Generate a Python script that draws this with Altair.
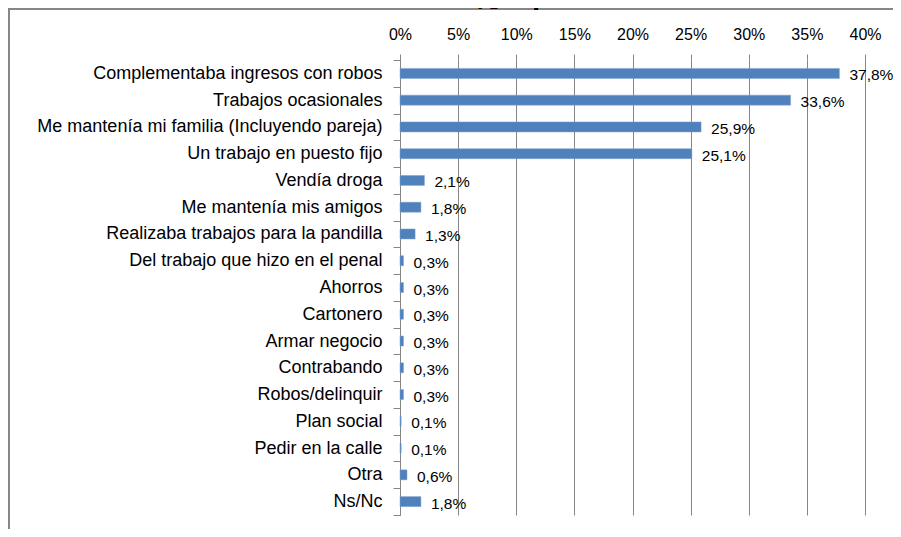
import altair as alt
import pandas as pd

categories = [
    "Complementaba ingresos con robos",
    "Trabajos ocasionales",
    "Me mantenía mi familia (Incluyendo pareja)",
    "Un trabajo en puesto fijo",
    "Vendía droga",
    "Me mantenía mis amigos",
    "Realizaba trabajos para la pandilla",
    "Del trabajo que hizo en el penal",
    "Ahorros",
    "Cartonero",
    "Armar negocio",
    "Contrabando",
    "Robos/delinquir",
    "Plan social",
    "Pedir en la calle",
    "Otra",
    "Ns/Nc",
]
values = [37.8, 33.6, 25.9, 25.1, 2.1, 1.8, 1.3, 0.3, 0.3, 0.3, 0.3, 0.3, 0.3, 0.1, 0.1, 0.6, 1.8]
x_ticks = [0, 5, 10, 15, 20, 25, 30, 35, 40]
title_text = "Cuando fue liberado la última vez, ¿de qué vivía?"

df = pd.DataFrame({
    "cat": categories,
    "val": values,
    "label": [f"{v:.1f}".replace(".", ",") + "%" for v in values],
})

FONT = "Liberation Sans"
GRAY = "#868686"

y_enc = alt.Y(
    "cat:N", sort=categories, title=None,
    scale=alt.Scale(paddingInner=0, paddingOuter=0),
    axis=alt.Axis(
        orient="left", domainColor=GRAY, tickColor=GRAY, tickSize=7,
        tickBand="extent", labelPadding=11, labelFontSize=18, labelLimit=600,
        labelColor="#000000", labelFont=FONT, grid=False,
    ),
)
x_enc = alt.X(
    "val:Q", title=None,
    scale=alt.Scale(domain=[0, 40], nice=False),
    axis=alt.Axis(
        orient="top", values=x_ticks, labelExpr="datum.value + '%'",
        domain=False, grid=True, gridColor=GRAY, gridOpacity=1,
        tickColor=GRAY, tickSize=6, labelPadding=12, labelFontSize=16,
        labelFlush=False, labelOverlap=False,
        labelColor="#000000", labelFont=FONT,
    ),
)

bars = alt.Chart(df).mark_bar(size=10, color="#4F81BD", stroke="#7EA1CF", strokeWidth=0.5).encode(
    x=x_enc, y=y_enc
)
labels = alt.Chart(df).mark_text(
    align="left", baseline="middle", dx=10, dy=2, fontSize=15.5, font=FONT, color="#000000"
).encode(x="val:Q", y=alt.Y("cat:N", sort=categories), text="label:N")

border_top = alt.Chart(df).mark_rule(color=GRAY, strokeWidth=1.5).encode(
    x=alt.value(-391), x2=alt.value(500), y=alt.value(-51.5)
)
border_left = alt.Chart(df).mark_rule(color=GRAY, strokeWidth=1.5).encode(
    x=alt.value(-391.5), y=alt.value(-52), y2=alt.value(480)
)
title = alt.Chart(df).mark_text(
    fontSize=19, fontWeight="bold", font=FONT, color="#000000", align="center", baseline="alphabetic"
).encode(x=alt.value(-2), y=alt.value(-54), text=alt.value(title_text))

chart = alt.layer(bars, labels, border_top, border_left, title).properties(
    width=465, height=455,
    autosize=alt.AutoSizeParams(type="none"),
    padding={"left": 392, "top": 52, "right": 28, "bottom": 14},
).configure_view(stroke=None).configure_axis(labelFont=FONT)

chart.save("out.html", embed_options={"renderer": "svg", "actions": False})
